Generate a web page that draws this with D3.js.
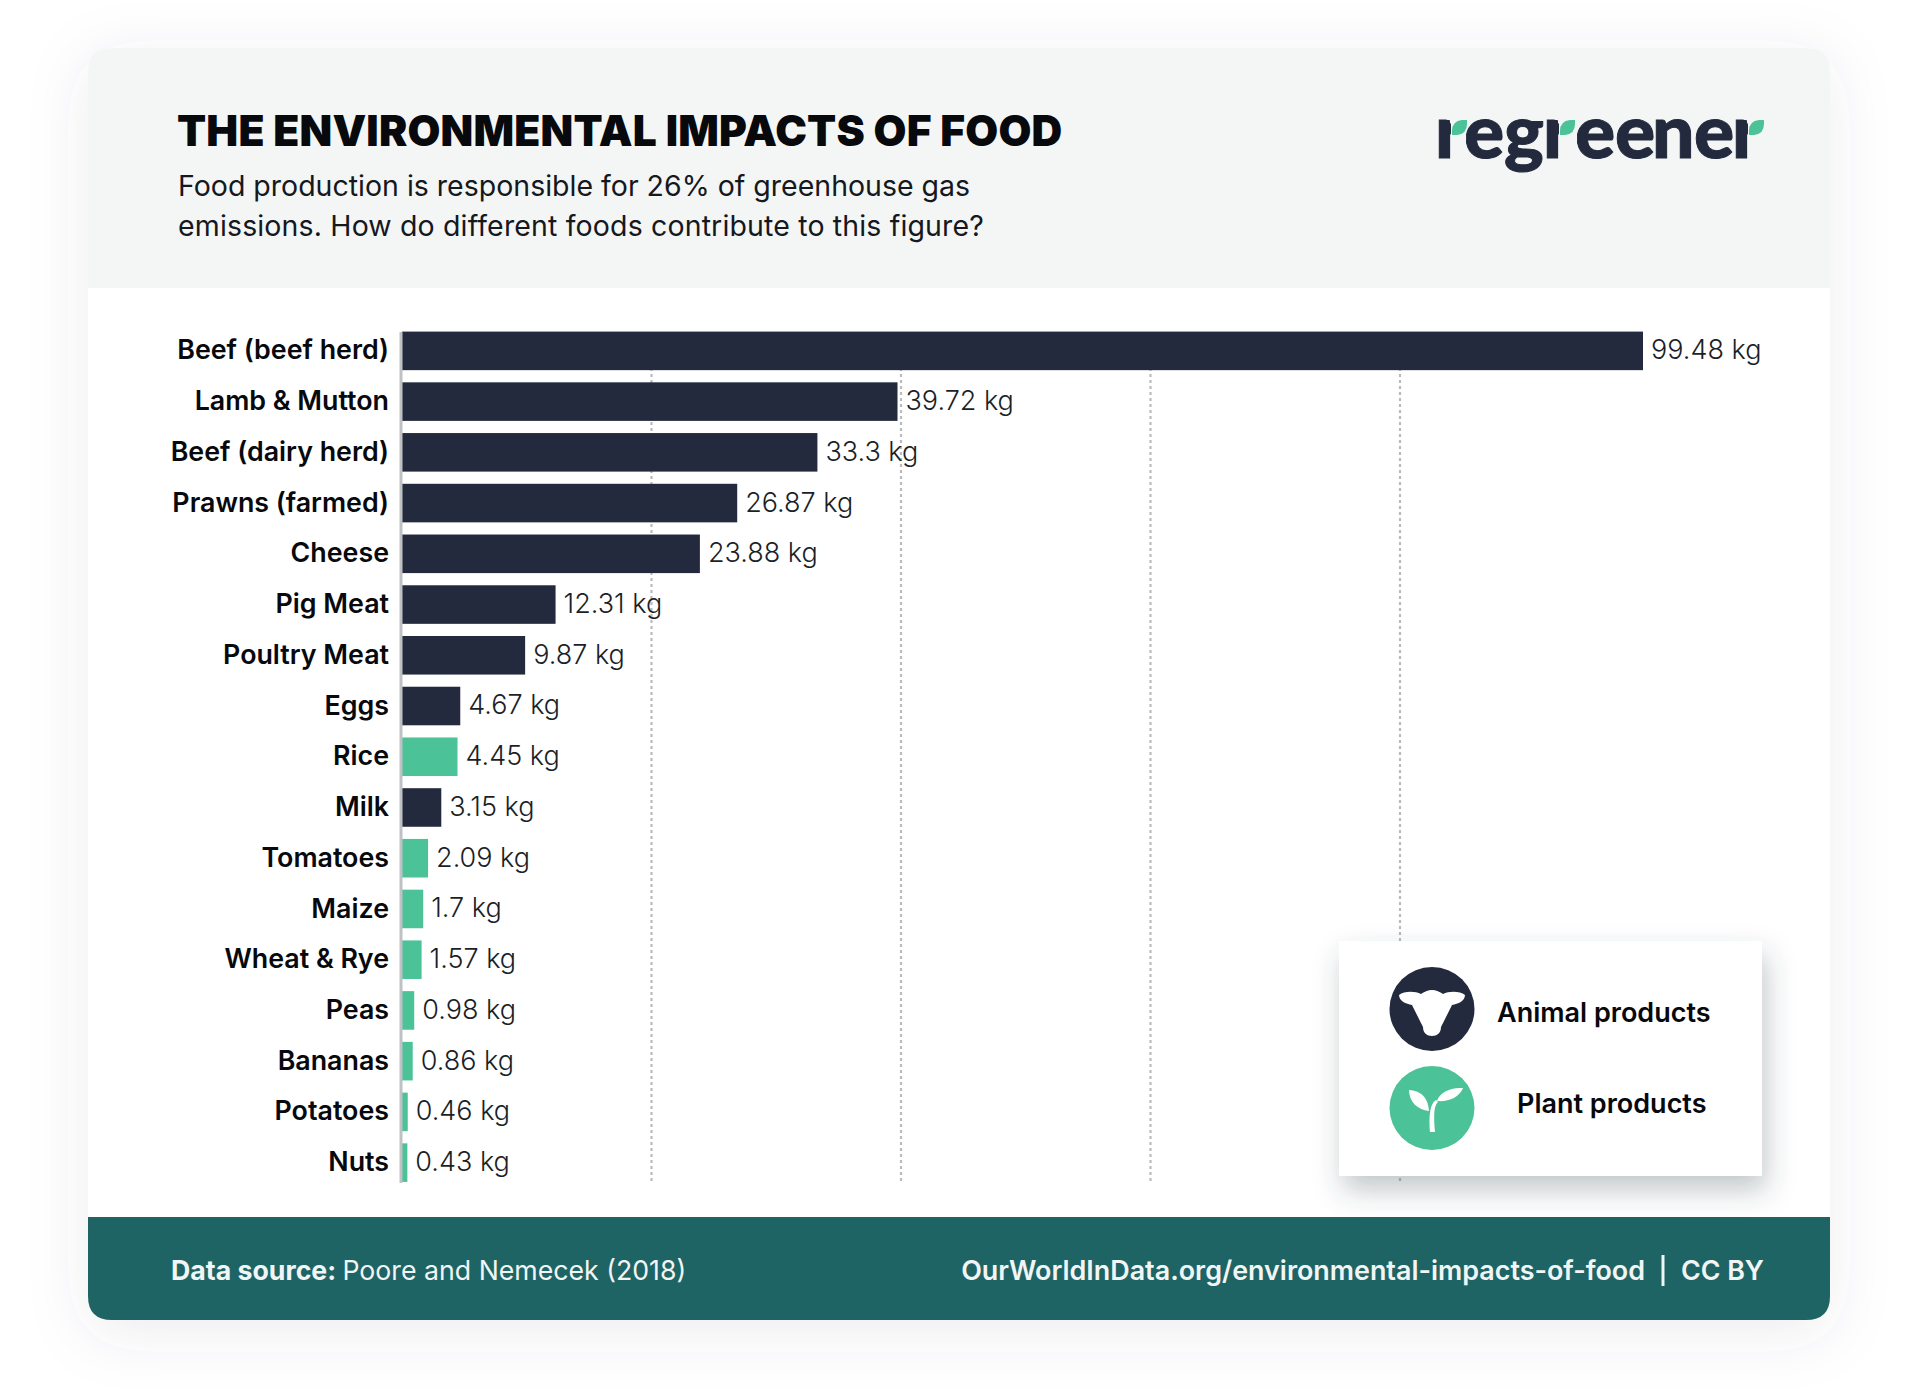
<!DOCTYPE html>
<html><head><meta charset="utf-8">
<script src="https://cdn.jsdelivr.net/npm/d3@7/dist/d3.min.js"></script>
<style>html,body{margin:0;background:#fff}svg{display:block}text{font-family:Inter,sans-serif}</style>
</head><body><svg id="c" width="1920" height="1400"></svg>
<script>
const foods=["Beef (beef herd)","Lamb & Mutton","Beef (dairy herd)","Prawns (farmed)","Cheese","Pig Meat","Poultry Meat","Eggs","Rice","Milk","Tomatoes","Maize","Wheat & Rye","Peas","Bananas","Potatoes","Nuts"];
const emissions=[99.48,39.72,33.3,26.87,23.88,12.31,9.87,4.67,4.45,3.15,2.09,1.7,1.57,0.98,0.86,0.46,0.43];
const kinds=["a","a","a","a","a","a","a","a","p","a","p","p","p","p","p","p","p"];
const gridTicks=[20,40,60,80];
const legendLabels=["Animal products","Plant products"];
const DARK="#232a3e",GREEN="#4bc297",TEAL="#1e6464";

const svg=d3.select("#c"),defs=svg.append("defs");
const f1=defs.append("filter").attr("id","cardS").attr("x","-15%").attr("y","-15%").attr("width","130%").attr("height","135%");
f1.append("feDropShadow").attr("dx",0).attr("dy",12).attr("stdDeviation",30).attr("flood-color","#4a5560").attr("flood-opacity",.1);
const f2=defs.append("filter").attr("id","legS").attr("x","-25%").attr("y","-25%").attr("width","150%").attr("height","160%");
f2.append("feDropShadow").attr("dx",4).attr("dy",14).attr("stdDeviation",14).attr("flood-color","#3a4550").attr("flood-opacity",.3);

// card
const L=88,R=1830,T=48,B=1320,HB=288,FT=1217,r=24;
svg.append("rect").attr("x",L).attr("y",T).attr("width",R-L).attr("height",B-T).attr("rx",r).attr("fill","#fff").attr("filter","url(#cardS)");
svg.append("path").attr("fill","#f4f6f5").attr("d",`M${L},${HB}V${T+r}Q${L},${T} ${L+r},${T}H${R-r}Q${R},${T} ${R},${T+r}V${HB}Z`);
svg.append("path").attr("fill",TEAL).attr("d",`M${L},${FT}H${R}V${B-r}Q${R},${B} ${R-r},${B}H${L+r}Q${L},${B} ${L},${B-r}Z`);

// header
svg.append("text").attr("x",177).attr("y",146).attr("font-size",42.5).attr("font-weight",900).attr("letter-spacing",0.18).attr("fill","#07090c").text("THE ENVIRONMENTAL IMPACTS OF FOOD");
const sub=["Food production is responsible for 26% of greenhouse gas","emissions. How do different foods contribute to this figure?"];
svg.selectAll(".sub").data(sub).join("text").attr("x",178).attr("y",(d,i)=>196+i*40).attr("font-size",28.5).attr("font-weight",400).attr("letter-spacing",(d,i)=>[0,0.15][i]).attr("fill","#15181d").text(d=>d);

// logo
const logoHoles=[[1451,1466],[1559,1577],[1748,1772]];
defs.append("clipPath").attr("id","arms").append("path").attr("clip-rule","evenodd")
  .attr("d","M1400,100H1800V190H1400Z"+logoHoles.map(h=>`M${h[0]},100H${h[1]}V190H${h[0]}Z`).join(""));
const logo=svg.append("g");
logo.append("g").attr("clip-path","url(#arms)").append("text").attr("x",[1435,1464,1504,1543,1575,1615,1652,1694,1732].join(" ")).attr("y",158).attr("font-size",75).attr("font-weight",900).attr("fill",DARK).attr("stroke",DARK).attr("stroke-width",1).attr("style","font-family:Lato,sans-serif").text("regreener");
[1452,1560,1749].forEach(x=>{
  logo.append("rect").attr("x",x-12).attr("y",120).attr("width",10).attr("height",38).attr("rx",1).attr("fill",DARK);
  logo.append("path").attr("fill",GREEN).attr("d",`M${x},135V131Q${x},121 ${x+10},120H${x+15}V124Q${x+15},134 ${x+5},135Z`);
});

// chart
const x=d3.scaleLinear().domain([0,99.48]).range([402,1643]);
const y=d3.scaleBand().domain(foods).range([325.5,1188]).paddingInner(0.24).paddingOuter(0.12);
const yTop=332,yBot=1183;
svg.append("g").selectAll("line").data(gridTicks).join("line").attr("x1",d=>x(d)).attr("x2",d=>x(d)).attr("y1",yTop).attr("y2",yBot).attr("stroke","#b9bcbf").attr("stroke-width",2.2).attr("stroke-dasharray","3 3");
svg.append("g").selectAll("rect").data(foods).join("rect").attr("x",x(0)).attr("y",d=>y(d)).attr("width",(d,i)=>x(emissions[i])-x(0)).attr("height",y.bandwidth()).attr("fill",(d,i)=>kinds[i]==="a"?DARK:GREEN);
const ax=svg.append("g").attr("transform",`translate(${x(0)},0)`).call(d3.axisLeft(y).tickSize(0).tickPadding(13));
ax.select(".domain").remove();
ax.selectAll("text").attr("font-size",26.8).attr("font-weight",600).attr("fill","#07090c").style("font-family","Inter,sans-serif");
svg.append("line").attr("x1",401).attr("x2",401).attr("y1",yTop).attr("y2",yBot).attr("stroke","#bfc2c4").attr("stroke-width",3);
svg.append("g").selectAll("text").data(foods).join("text").attr("x",(d,i)=>x(emissions[i])+8).attr("y",d=>y(d)+y.bandwidth()/2-1).attr("dy","0.35em").attr("font-size",27).attr("font-weight",300).attr("fill","#1b1f27").text((d,i)=>emissions[i]+" kg");

// legend
svg.append("rect").attr("x",1339).attr("y",941).attr("width",423).attr("height",235).attr("fill","#fff").attr("filter","url(#legS)");
const cow=svg.append("g").attr("transform","translate(1432,1009)");
cow.append("ellipse").attr("rx",42.5).attr("ry",42).attr("fill",DARK);
cow.append("path").attr("fill","#fff").attr("d","M0,-19C-4,-19 -8,-17 -11,-15C-17,-18 -28,-18 -33,-14C-33,-8 -26,-5 -20,-4L-9,18C-9,24 -5,27 0,27C5,27 9,24 9,18L20,-4C26,-5 33,-8 33,-14C28,-18 17,-18 11,-15C8,-17 4,-19 0,-19Z");
const plant=svg.append("g").attr("transform","translate(1432,1108)");
plant.append("ellipse").attr("rx",42.5).attr("ry",42).attr("fill",GREEN);
plant.append("path").attr("fill","#fff").attr("d","M-23,-18C-12,-17 -4,-12 -3,3C-14,2 -23,-6 -23,-18ZM31,-20C27,-10 16,-6 5,-7C7,-15 18,-21 31,-20ZM-2,24C-3,12 -3,-4 4,-8L6,-6C1,-2 2,12 3,24Z");
svg.selectAll(".leg").data(legendLabels).join("text").attr("x",(d,i)=>[1497,1517][i]).attr("y",(d,i)=>[1022,1113][i]).attr("font-size",27).attr("font-weight",600).attr("fill","#07090c").text(d=>d);

// footer
const ft=svg.append("text").attr("x",171).attr("y",1280).attr("font-size",26.7).attr("fill","#f2f5f5");
ft.append("tspan").attr("font-weight",700).text("Data source: ");
ft.append("tspan").attr("font-weight",400).text("Poore and Nemecek (2018)");
svg.append("text").attr("x",1645).attr("y",1280).attr("text-anchor","end").attr("font-size",26.9).attr("font-weight",600).attr("fill","#f2f5f5").text("OurWorldInData.org/environmental-impacts-of-food");
svg.append("line").attr("x1",1663).attr("x2",1663).attr("y1",1255).attr("y2",1286).attr("stroke","#f2f5f5").attr("stroke-width",3);
svg.append("text").attr("x",1764).attr("y",1280).attr("text-anchor","end").attr("font-size",26.8).attr("font-weight",600).attr("fill","#f2f5f5").text("CC BY");
</script></body></html>
